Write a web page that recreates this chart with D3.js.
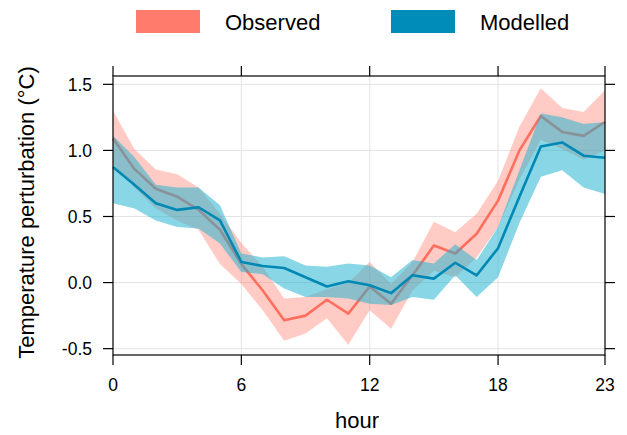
<!DOCTYPE html>
<html lang="en">
<head>
    <meta charset="UTF-8">
    <title>Diurnal temperature perturbation</title>
    <style>
        body { margin: 0; background: #fff; }
        svg { display: block; font-family: "Liberation Sans", Arial, sans-serif; }
        .grid line { stroke: #e3e3e3; stroke-width: 1; }
        .frame { fill: none; stroke: #000; stroke-width: 1.2; }
        .tick { stroke: #000; stroke-width: 1.2; }
    </style>
    <script src="https://cdn.jsdelivr.net/npm/d3@7"></script>
</head>
<body>
    <div id="chart"></div>
    <script>
        // data
        var hours = [0, 1, 2, 3, 4, 5, 6, 7, 8, 9, 10, 11, 12, 13, 14, 15, 16, 17, 18, 19, 20, 21, 22, 23];
        var obsMean = [1.09, 0.86, 0.71, 0.65, 0.55, 0.40, 0.14, -0.06, -0.285, -0.25, -0.13, -0.235, -0.03, -0.16, 0.055, 0.28, 0.22, 0.37, 0.62, 1.00, 1.26, 1.14, 1.11, 1.215];
        var obsLower = [0.90, 0.72, 0.56, 0.47, 0.40, 0.14, -0.01, -0.21, -0.44, -0.385, -0.27, -0.47, -0.21, -0.35, -0.06, 0.09, 0.04, 0.19, 0.42, 0.78, 1.08, 1.01, 0.93, 1.00];
        var obsUpper = [1.30, 1.01, 0.855, 0.82, 0.72, 0.52, 0.30, 0.12, -0.12, -0.11, -0.05, 0.0, 0.155, -0.01, 0.155, 0.46, 0.38, 0.52, 0.77, 1.18, 1.47, 1.32, 1.29, 1.455];
        var modMean = [0.875, 0.74, 0.60, 0.55, 0.57, 0.47, 0.156, 0.125, 0.11, 0.04, -0.03, 0.01, -0.02, -0.08, 0.055, 0.03, 0.15, 0.055, 0.26, 0.65, 1.03, 1.06, 0.96, 0.945];
        var modLower = [0.60, 0.56, 0.47, 0.42, 0.41, 0.295, 0.08, 0.063, -0.045, -0.11, -0.11, -0.12, -0.16, -0.17, -0.11, -0.13, 0.055, -0.11, 0.04, 0.45, 0.80, 0.85, 0.72, 0.67];
        var modUpper = [1.11, 0.95, 0.74, 0.72, 0.72, 0.585, 0.22, 0.19, 0.20, 0.13, 0.12, 0.145, 0.13, 0.04, 0.17, 0.145, 0.29, 0.17, 0.42, 0.85, 1.28, 1.25, 1.20, 1.215];
        var xTicks = [0, 6, 12, 18, 23];
        var yTicks = [-0.5, 0, 0.5, 1, 1.5];
        var seriesNames = ["Observed", "Modelled"];

        var width = 627, height = 435;
        var margin = { top: 76, right: 22, bottom: 80, left: 113 };
        var innerW = width - margin.left - margin.right,
            innerH = height - margin.top - margin.bottom;

        var colors = {
            Observed: { line: "#ff6f5e", band: "#ff8b7c", bandOpacity: 0.45, key: "#ff7b6b" },
            Modelled: { line: "#0088b4", band: "#1cb3cf", bandOpacity: 0.52, key: "#008cb8" }
        };

        var svg = d3.select("#chart").append("svg")
            .attr("width", width)
            .attr("height", height);

        var x = d3.scaleLinear().domain([0, 23]).range([0, innerW]);
        var y = d3.scaleLinear().domain([-0.548, 1.563]).range([innerH, 0]);

        var g = svg.append("g")
            .attr("transform", "translate(" + margin.left + "," + margin.top + ")");

        // grid
        var grid = g.append("g").attr("class", "grid");
        grid.selectAll(".gy").data(yTicks).enter().append("line")
            .attr("x1", 0).attr("x2", innerW)
            .attr("y1", function (d) { return y(d); })
            .attr("y2", function (d) { return y(d); });
        grid.selectAll(".gx").data(xTicks.slice(1, -1)).enter().append("line")
            .attr("y1", 0).attr("y2", innerH)
            .attr("x1", function (d) { return x(d); })
            .attr("x2", function (d) { return x(d); });

        function rows(mean, lo, hi) {
            return hours.map(function (h, i) { return { h: h, m: mean[i], lo: lo[i], hi: hi[i] }; });
        }
        var series = [
            { name: "Observed", data: rows(obsMean, obsLower, obsUpper) },
            { name: "Modelled", data: rows(modMean, modLower, modUpper) }
        ];

        var area = d3.area()
            .x(function (d) { return x(d.h); })
            .y0(function (d) { return y(d.lo); })
            .y1(function (d) { return y(d.hi); });
        var line = d3.line()
            .x(function (d) { return x(d.h); })
            .y(function (d) { return y(d.m); });

        series.forEach(function (s) {
            var c = colors[s.name];
            g.append("path")
                .datum(s.data)
                .attr("d", area)
                .attr("fill", c.band)
                .attr("fill-opacity", c.bandOpacity);
            g.append("path")
                .datum(s.data)
                .attr("d", line)
                .attr("fill", "none")
                .attr("stroke", c.line)
                .attr("stroke-width", 2.6)
                .attr("stroke-linejoin", "round");
        });

        // frame + ticks on all four sides (lattice style)
        g.append("rect").attr("class", "frame")
            .attr("width", innerW).attr("height", innerH);

        var tl = 10;
        var ax = g.append("g");
        xTicks.forEach(function (t) {
            ax.append("line").attr("class", "tick")
                .attr("x1", x(t)).attr("x2", x(t)).attr("y1", innerH).attr("y2", innerH + tl);
            ax.append("line").attr("class", "tick")
                .attr("x1", x(t)).attr("x2", x(t)).attr("y1", 0).attr("y2", -tl);
            ax.append("text")
                .attr("x", x(t)).attr("y", innerH + 36)
                .attr("text-anchor", "middle")
                .style("font-size", "17.5px")
                .text(t);
        });
        yTicks.forEach(function (t) {
            ax.append("line").attr("class", "tick")
                .attr("x1", 0).attr("x2", -tl).attr("y1", y(t)).attr("y2", y(t));
            ax.append("line").attr("class", "tick")
                .attr("x1", innerW).attr("x2", innerW + tl).attr("y1", y(t)).attr("y2", y(t));
            ax.append("text")
                .attr("x", -21).attr("y", y(t))
                .attr("dy", "0.36em")
                .attr("text-anchor", "end")
                .style("font-size", "17.5px")
                .text(d3.format(".1f")(t).replace("−", "-"));
        });

        // axis titles
        svg.append("text")
            .attr("x", margin.left + innerW / 2 - 2)
            .attr("y", 428)
            .attr("text-anchor", "middle")
            .style("font-size", "22px")
            .text("hour");
        svg.append("text")
            .attr("transform", "translate(34," + (margin.top + innerH / 2 - 3) + ") rotate(-90)")
            .attr("text-anchor", "middle")
            .style("font-size", "22px")
            .text("Temperature perturbation (°C)");

        // legend
        var legendX = [136, 391];
        var legend = svg.append("g");
        seriesNames.forEach(function (name, i) {
            legend.append("rect")
                .attr("x", legendX[i]).attr("y", 10)
                .attr("width", 64).attr("height", 23)
                .attr("fill", colors[name].key);
            legend.append("text")
                .attr("x", legendX[i] + 89).attr("y", 30)
                .style("font-size", "22px")
                .text(name);
        });
    </script>
</body>
</html>
